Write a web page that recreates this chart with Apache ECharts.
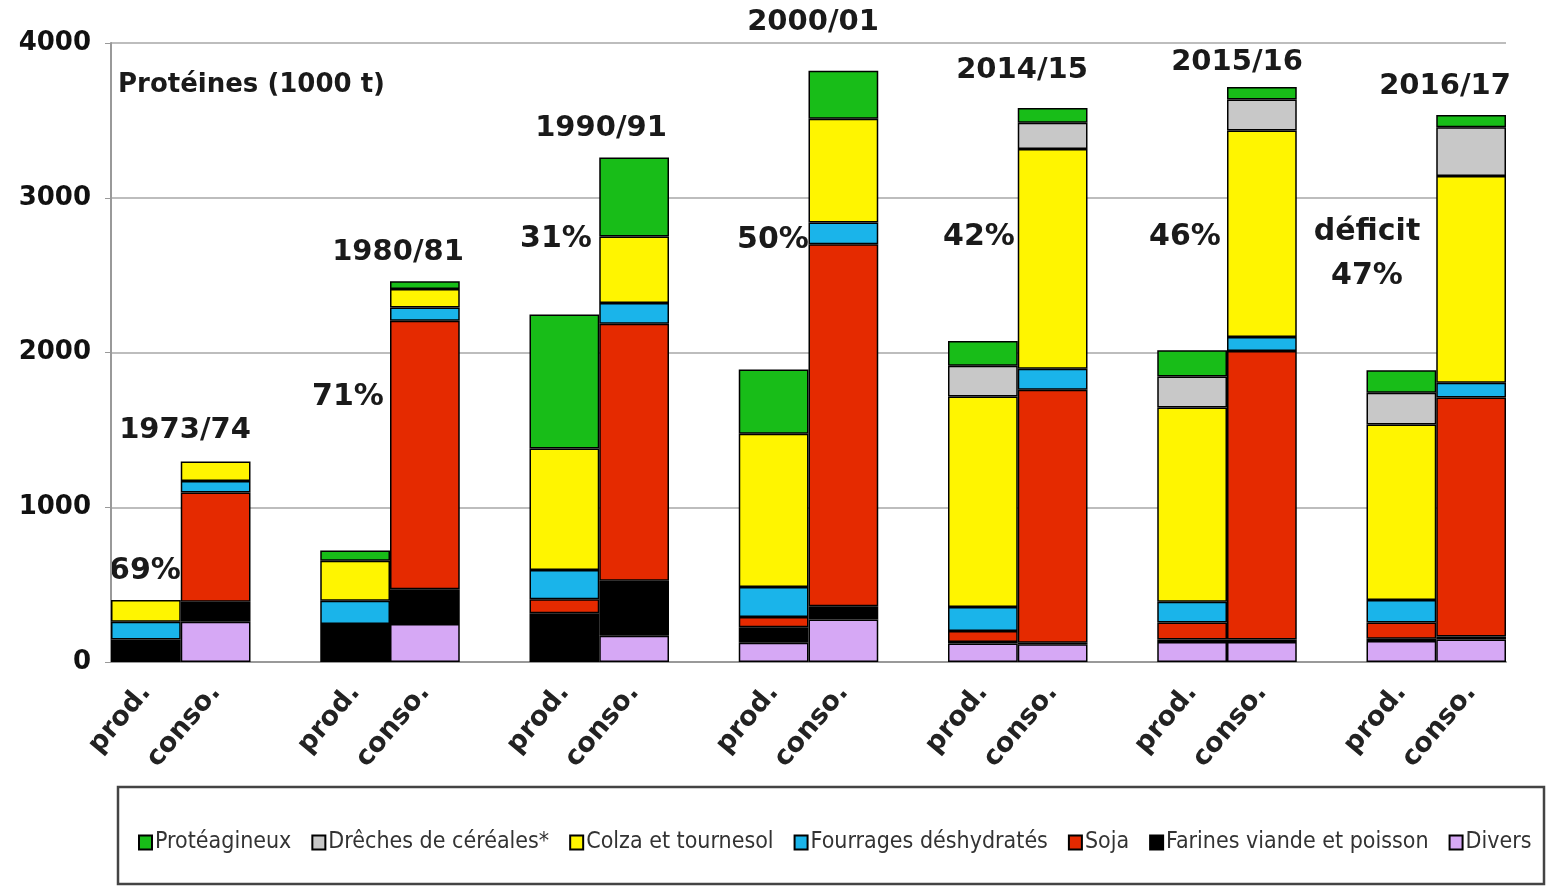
<!DOCTYPE html>
<html>
<head>
<meta charset="utf-8">
<script src="https://cdn.jsdelivr.net/npm/echarts@6/dist/echarts.min.js"></script>
<style>
  html, body { margin: 0; padding: 0; background: #fff; }
  #chart { width: 1547px; height: 887px; }
</style>
</head>
<body>
<div id="chart"></div>
<script>
// périodes et colonnes
const periods = ['1973/74', '1980/81', '1990/91', '2000/01', '2014/15', '2015/16', '2016/17']
const sides = ['prod.', 'conso.']
const shares = ['69%', '71%', '31%', '50%', '42%', '46%', '47%']
const yTicks = [0, 1000, 2000, 3000, 4000]

// valeurs (1000 t), ordre : prod, conso pour chaque période
const divers       = [0, 260,  0, 245,    0, 170,  125, 275,  120, 115,  130, 130,  135, 145]
const farines      = [145, 130, 245, 225, 315, 355, 100, 85,   10, 10,    15, 15,    15, 20]
const soja         = [0, 705,  0, 1735,  90, 1660, 65, 2340,  70, 1635,  110, 1865, 105, 1545]
const fourrages    = [115, 75, 150, 85,  190, 135, 195, 140,  155, 135,  135, 90,   145, 95]
const colza        = [140, 125, 260, 120, 785, 430, 990, 670, 1360, 1420, 1255, 1335, 1135, 1335]
const dreches      = [0, 0,    0, 0,     0, 0,     0, 0,     200, 170,  200, 200,  205, 315]
const proteagineux = [0, 0,    65, 50,   865, 510, 415, 310,  160, 95,   170, 80,   145, 80]

// catégories avec un espace entre chaque paire
const categories = []
const slotOf = []
periods.forEach((p, i) => {
  sides.forEach(s => {
    slotOf.push(categories.length)
    categories.push(p + ' ' + s)
  })
  if (i < periods.length - 1) categories.push('gap' + i)
})

const toSlots = values => {
  const out = categories.map(() => null)
  values.forEach((v, i) => { out[slotOf[i]] = v > 0 ? v : null })
  return out
}

// de bas en haut
const stackDefs = [
  { name: 'Divers', data: divers, color: '#d6a8f5' },
  { name: 'Farines viande et poisson', data: farines, color: '#000000' },
  { name: 'Soja', data: soja, color: '#e52a00' },
  { name: 'Fourrages déshydratés', data: fourrages, color: '#1ab4ea' },
  { name: 'Colza et tournesol', data: colza, color: '#fff500' },
  { name: 'Drêches de céréales*', data: dreches, color: '#c8c8c8' },
  { name: 'Protéagineux', data: proteagineux, color: '#18bd18' }
]

const boldFont = 'DejaVu Sans'

const chart = echarts.init(document.getElementById('chart'))

// positions des annotations (px)
const yearPos = [[185, 430], [398, 252], [601, 128], [813, 22], [1022, 70], [1237, 62], [1445, 86]]
const sharePos = [[145, 571], [348, 397], [556, 239], [773, 240], [979, 237], [1185, 237], [1367, 276]]

const textEl = (text, x, y, size, align) => ({
  type: 'text',
  x, y,
  style: {
    text,
    fill: '#1a1a1a',
    font: 'bold ' + size + 'px ' + boldFont,
    textAlign: align || 'center',
    textVerticalAlign: 'middle'
  }
})

const graphics = [
  {
    type: 'rect',
    shape: { x: 118, y: 787, width: 1426, height: 97 },
    style: { fill: 'none', stroke: '#444', lineWidth: 2.5 }
  },
  textEl('Protéines (1000 t)', 118, 85, 26, 'left'),
  textEl('déficit', 1367, 232, 30)
]
periods.forEach((p, i) => {
  graphics.push(textEl(p, yearPos[i][0], yearPos[i][1], 29))
  graphics.push(textEl(shares[i], sharePos[i][0], sharePos[i][1], 30))
})

const option = {
  animation: false,
  backgroundColor: '#fff',
  grid: { left: 111, right: 41, top: 43, bottom: 225 },
  legend: {
    data: stackDefs.map(d => d.name).reverse(),
    left: 133,
    top: 826,
    width: 1410,
    itemWidth: 13,
    itemHeight: 14,
    itemGap: 20,
    icon: 'rect',
    textStyle: {
      fontFamily: 'DejaVu Sans Condensed, sans-serif',
      fontSize: 23,
      color: '#333',
      padding: [0, 0, 0, -2]
    }
  },
  xAxis: {
    type: 'category',
    data: categories,
    axisLine: { lineStyle: { color: '#999', width: 2 } },
    axisTick: { interval: 0, length: 8, lineStyle: { color: '#999', width: 1.5 } },
    axisLabel: {
      interval: 0,
      rotate: 50,
      margin: 26,
      fontFamily: boldFont,
      fontWeight: 'bold',
      fontSize: 27,
      color: '#222',
      formatter: v => v.startsWith('gap') ? '' : v.split(' ')[1]
    }
  },
  yAxis: {
    type: 'value',
    min: yTicks[0],
    max: yTicks[yTicks.length - 1],
    interval: 1000,
    axisLine: { show: true, lineStyle: { color: '#999', width: 2 } },
    axisTick: { show: true, length: 6, lineStyle: { color: '#999' } },
    splitLine: { lineStyle: { color: '#bdbdbd', width: 2 } },
    axisLabel: {
      margin: 20,
      fontFamily: boldFont,
      fontWeight: 'bold',
      fontSize: 26,
      color: '#111',
      formatter: v => String(v)
    }
  },
  series: stackDefs.map(d => ({
    name: d.name,
    type: 'bar',
    stack: 'total',
    barWidth: '100%',
    data: toSlots(d.data),
    itemStyle: { color: d.color, borderColor: '#000', borderWidth: 1.5 }
  })),
  graphic: graphics
}

chart.setOption(option)
</script>
</body>
</html>
